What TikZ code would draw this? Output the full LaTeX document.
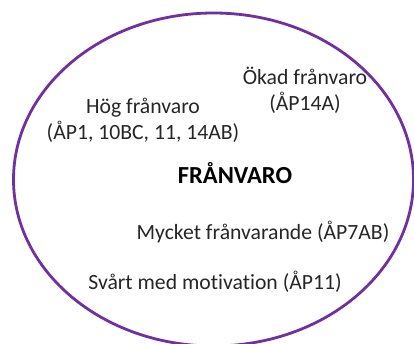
\documentclass[tikz,border=0pt]{standalone}
\usepackage{fontspec}
\setmainfont[Ligatures=NoCommon]{Carlito}
\usetikzlibrary{shapes.geometric}
\begin{document}
\begin{tikzpicture}[x=1pt,y=-1pt,
  lbl/.style={font=\fontsize{21.7}{26}\selectfont, text=black!85, align=center, inner sep=0pt},
  ring/.style={draw={rgb,255:red,112;green,48;blue,160}, line width=2.8pt}]
\useasboundingbox (0,0) rectangle (414,344);
\clip (0,0) rectangle (414,344);
\fill[white] (0,0) rectangle (414,344);
\node[ring, ellipse, minimum width=400, minimum height=333, inner sep=0pt] (e) at (213.5,179.5) {};
\node[lbl] (okad) at (305,90) {Ökad frånvaro\\(ÅP14A)};
\node[lbl] (hog) at (143,120) {Hög frånvaro\\(ÅP1, 10BC, 11, 14AB)};
\node[lbl, font=\fontsize{24.5}{28}\selectfont\bfseries, text=black] (fr) at (235,173) {FRÅNVARO};
\node[lbl] (myck) at (263,232) {Mycket frånvarande (ÅP7AB)};
\node[lbl] (svart) at (215,282) {Svårt med motivation (ÅP11)};
\end{tikzpicture}
\end{document}
